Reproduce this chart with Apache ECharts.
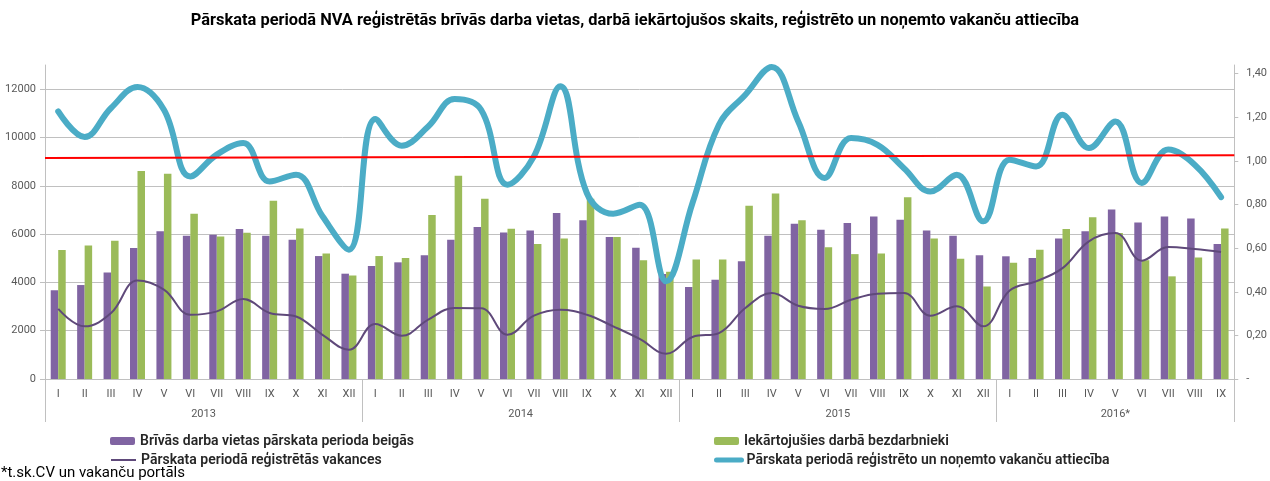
<!DOCTYPE html>
<html>
<head>
<meta charset="utf-8">
<script src="https://cdn.jsdelivr.net/npm/echarts@6/dist/echarts.min.js"></script>
<style>
  html, body { margin: 0; padding: 0; background: #fff; }
  #chart { width: 1270px; height: 481px; }
</style>
</head>
<body>
<div id="chart"></div>
<script>
const months = [
  'I', 'II', 'III', 'IV', 'V', 'VI', 'VII', 'VIII', 'IX', 'X', 'XI', 'XII',
  'I', 'II', 'III', 'IV', 'V', 'VI', 'VII', 'VIII', 'IX', 'X', 'XI', 'XII',
  'I', 'II', 'III', 'IV', 'V', 'VI', 'VII', 'VIII', 'IX', 'X', 'XI', 'XII',
  'I', 'II', 'III', 'IV', 'V', 'VI', 'VII', 'VIII', 'IX'
]
const years = ['2013', '2014', '2015', '2016*']
const yearStart = [0, 12, 24, 36]
const yearCount = [12, 12, 12, 9]

const vacanciesEnd = [
  3670, 3890, 4410, 5420, 6120, 5930, 5970, 6210, 5930, 5770, 5090, 4360,
  4680, 4830, 5120, 5770, 6290, 6070, 6150, 6870, 6570, 5880, 5430, 4350,
  3810, 4110, 4880, 5930, 6430, 6180, 6460, 6730, 6590, 6150, 5930, 5120,
  5080, 5010, 5820, 6120, 7020, 6480, 6730, 6650, 5590
]
const employed = [
  5340, 5530, 5720, 8610, 8500, 6840, 5900, 6060, 7380, 6230, 5200, 4280,
  5090, 5010, 6790, 8410, 7460, 6220, 5590, 5820, 7460, 5880, 4920, 4440,
  4950, 4950, 7170, 7680, 6570, 5450, 5170, 5200, 7520, 5820, 4980, 3830,
  4810, 5350, 6210, 6700, 6040, 4920, 4250, 5030, 6230
]
const registered = [
  2900, 2180, 2730, 4080, 3700, 2660, 2800, 3310, 2730, 2590, 1830, 1210,
  2280, 1790, 2460, 2940, 2930, 1830, 2620, 2870, 2660, 2180, 1660, 1050,
  1740, 1900, 2940, 3560, 3030, 2900, 3280, 3530, 3560, 2620, 3010, 2180,
  3660, 4040, 4590, 5700, 6040, 4900, 5460, 5380, 5260
]
const ratio = [
  1.227, 1.110, 1.243, 1.339, 1.235, 0.929, 1.029, 1.082, 0.906, 0.937, 0.746, 0.593,
  1.192, 1.070, 1.158, 1.284, 1.235, 0.891, 1.021, 1.342, 0.853, 0.758, 0.799, 0.448,
  0.807, 1.166, 1.304, 1.431, 1.181, 0.922, 1.105, 1.074, 0.967, 0.860, 0.937, 0.723,
  1.006, 0.975, 1.212, 1.059, 1.181, 0.899, 1.052, 0.983, 0.834
]
// linear trend of the ratio, from the left edge to the right edge of the plot
const trend = [[0, 1.013], [45, 1.026]]

const names = [
  'Brīvās darba vietas pārskata perioda beigās',
  'Iekārtojušies darbā bezdarbnieki',
  'Pārskata periodā reģistrētās vakances',
  'Pārskata periodā reģistrēto un noņemto vakanču attiecība'
]

const grey = '#595959'
const gridColor = '#c0c0c0'
const font = 'Roboto, "Noto Sans", sans-serif'

// where the year label goes: middle of the year's months
const yearLabelAt = {}
years.forEach((y, i) => {
  const n = yearCount[i]
  const idx = yearStart[i] + Math.floor(n / 2)
  yearLabelAt[idx] = { text: y, shift: n % 2 === 0 }
})

const chart = echarts.init(document.getElementById('chart'))

const legendText = { color: '#262626', fontSize: 14, fontWeight: 600, fontFamily: font }

function legendItem(name, left, top, extra) {
  return Object.assign({
    left: left,
    top: top,
    itemWidth: 25,
    itemHeight: 8,
    itemGap: 3,
    padding: 0,
    textStyle: legendText,
    data: [name]
  }, extra || {})
}

chart.setOption({
  animation: false,
  title: {
    text: 'Pārskata periodā NVA reģistrētās brīvās darba vietas, darbā iekārtojušos skaits, reģistrēto un noņemto vakanču attiecība',
    left: 'center',
    top: 8,
    textStyle: { fontSize: 16.4, fontWeight: 'bold', color: '#000', fontFamily: font }
  },
  legend: [
    legendItem(names[0], 110, 434),
    legendItem(names[1], 714, 434),
    legendItem(names[2], 110, 453, { itemStyle: { opacity: 0 } }),
    legendItem(names[3], 714, 453, { itemStyle: { opacity: 0 }, lineStyle: { width: 5, cap: 'round' } })
  ],
  graphic: [{
    type: 'text',
    left: 1,
    top: 466,
    style: { text: '*t.sk.CV un vakanču portāls', fontSize: 15, fill: '#000', fontFamily: font }
  }],
  grid: { left: 45, right: 32, top: 65, bottom: 102 },
  xAxis: [{
    type: 'category',
    data: months,
    boundaryGap: true,
    axisLine: { lineStyle: { color: gridColor } },
    axisTick: { show: false },
    axisLabel: { interval: 0, color: grey, fontSize: 11, fontFamily: font, margin: 10 }
  }, {
    type: 'category',
    data: months,
    position: 'bottom',
    offset: 20,
    axisLine: { show: false },
    axisTick: { show: false },
    axisLabel: {
      interval: 0,
      color: grey,
      fontSize: 11,
      fontFamily: font,
      margin: 10,
      formatter: (value, index) => {
        const y = yearLabelAt[index]
        if (!y) return ''
        return y.shift ? '{s|' + y.text + '}' : y.text
      },
      rich: { s: { padding: [0, 26.5, 0, 0], color: grey, fontSize: 11, fontFamily: font } }
    }
  }, {
    // month index axis: year separators every 12 months, plus the end of the plot
    type: 'value',
    min: 0,
    max: months.length,
    interval: 12,
    position: 'bottom',
    axisLine: { show: false },
    axisTick: { show: true, length: 43, lineStyle: { color: gridColor } },
    axisLabel: { show: false },
    splitLine: { show: false }
  }],
  yAxis: [{
    type: 'value',
    min: 0,
    max: 13000,
    interval: 2000,
    axisLine: { show: true, lineStyle: { color: gridColor } },
    axisTick: { show: true, length: 5, lineStyle: { color: gridColor } },
    axisLabel: {
      color: grey, fontSize: 11, fontFamily: font, margin: 9, showMaxLabel: false,
      formatter: (v) => String(v)
    },
    splitLine: { lineStyle: { color: gridColor }, showMaxLine: false }
  }, {
    type: 'value',
    min: 0,
    max: 1.44,
    interval: 0.2,
    position: 'right',
    axisLine: { show: true, lineStyle: { color: gridColor } },
    axisTick: { show: true, length: 4, lineStyle: { color: gridColor } },
    axisLabel: {
      color: grey,
      fontSize: 11,
      fontFamily: font,
      margin: 12,
      showMaxLabel: false,
      formatter: (v) => v === 0 ? '-' : v.toFixed(2).replace('.', ',')
    },
    splitLine: { show: false }
  }],
  series: [{
    name: names[0],
    type: 'bar',
    data: vacanciesEnd,
    barWidth: 7.5,
    barGap: '0%',
    itemStyle: { color: '#8064A2' }
  }, {
    name: names[1],
    type: 'bar',
    data: employed,
    barWidth: 7.5,
    barGap: '0%',
    itemStyle: { color: '#9BBB59' }
  }, {
    name: names[2],
    type: 'line',
    data: registered,
    smooth: 0.4,
    symbol: 'none',
    lineStyle: { color: '#5F497A', width: 2 },
    itemStyle: { color: '#5F497A' }
  }, {
    name: names[3],
    type: 'line',
    yAxisIndex: 1,
    data: ratio,
    smooth: 0.4,
    symbol: 'none',
    lineStyle: { color: '#4BACC6', width: 6, cap: 'round', join: 'round' },
    itemStyle: { color: '#4BACC6' }
  }, {
    name: 'trend',
    type: 'line',
    xAxisIndex: 2,
    yAxisIndex: 1,
    data: trend,
    symbol: 'none',
    silent: true,
    lineStyle: { color: '#FF0000', width: 2 },
    z: 3
  }]
})
</script>
</body>
</html>
